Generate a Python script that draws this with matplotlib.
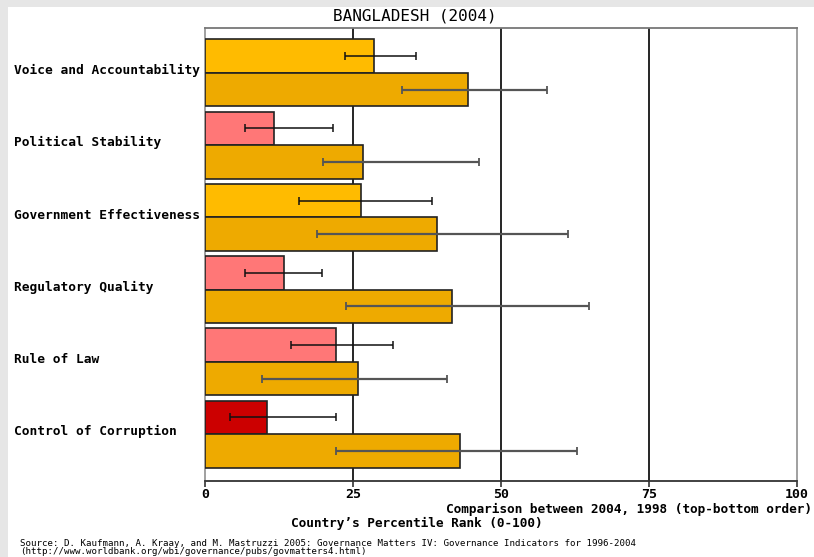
import matplotlib
matplotlib.use("Agg")
import matplotlib.pyplot as plt
import matplotlib.transforms as mtransforms
from matplotlib.patches import Rectangle
import numpy as np

# Governance indicators (percentile rank 0-100)
categories = ["Voice and Accountability", "Political Stability",
              "Government Effectiveness", "Regulatory Quality",
              "Rule of Law", "Control of Corruption"]

rank_2004 = [28.6, 11.7, 26.4, 13.3, 22.1, 10.4]
low_2004 = [23.6, 6.8, 15.8, 6.8, 14.5, 4.3]
high_2004 = [35.7, 21.7, 38.3, 19.7, 31.8, 22.2]

rank_1998 = [44.5, 26.7, 39.2, 41.8, 25.8, 43.1]
low_1998 = [33.3, 19.9, 18.9, 23.8, 9.6, 22.2]
high_1998 = [57.7, 46.3, 61.4, 64.8, 40.9, 62.9]

colors_2004 = ["#FFBB00", "#FF7777", "#FFBB00", "#FF7777", "#FF7777", "#CC0000"]
color_1998 = "#EEAA00"

xticks = [0, 25, 50, 75, 100]

W, H = 814, 557
fig = plt.figure(figsize=(W / 100, H / 100), dpi=100, facecolor="#e6e6e6")
fig.patches.append(Rectangle((8 / W, 0), 1 - 8 / W, 1 - 7 / H,
                             transform=fig.transFigure, facecolor="white",
                             edgecolor="none", zorder=-10))

ax = fig.add_axes([205 / W, 1 - 481 / H, (797 - 205) / W, (481 - 28) / H])
ax.set_facecolor("white")

mono = "DejaVu Sans Mono"
n = len(categories)
centers = np.arange(n)
bh = 0.464

y_top = centers - bh / 2
y_bot = centers + bh / 2

ax.barh(y_top, rank_2004, height=bh, color=colors_2004,
        edgecolor="#222222", linewidth=1.2, zorder=3)
ax.barh(y_bot, rank_1998, height=bh, color=color_1998,
        edgecolor="#222222", linewidth=1.2, zorder=3)

r04 = np.array(rank_2004)
r98 = np.array(rank_1998)
ax.errorbar(r04, y_top,
            xerr=[r04 - np.array(low_2004), np.array(high_2004) - r04],
            fmt="none", ecolor="#111111", elinewidth=1.1, capsize=2.6,
            capthick=1.1, zorder=5)
ax.errorbar(r98, y_bot,
            xerr=[r98 - np.array(low_1998), np.array(high_1998) - r98],
            fmt="none", ecolor="#555555", elinewidth=1.6, capsize=2.6,
            capthick=1.3, zorder=5)

for v in xticks[1:-1]:
    ax.axvline(v, color="black", linewidth=1.2, zorder=1)

ax.set_xlim(0, 100)
ax.set_ylim(5.65, -0.62)
ax.set_xticks(xticks)
ax.set_xticklabels([str(v) for v in xticks], fontfamily=mono,
                   fontweight="bold", fontsize=9.5)
ax.tick_params(axis="x", direction="out", length=4, width=1.2,
               color="#333333", pad=1)
ax.set_yticks(centers)
ax.set_yticklabels([])
ax.tick_params(axis="y", length=0)

for s in ["left", "right", "top"]:
    ax.spines[s].set_color("#999999")
    ax.spines[s].set_linewidth(1.3)
ax.spines["top"].set_color("#777777")
ax.spines["bottom"].set_color("#333333")
ax.spines["bottom"].set_linewidth(1.3)

label_tr = mtransforms.blended_transform_factory(fig.transFigure, ax.transData)
for c, name in zip(centers, categories):
    ax.text(14 / W, c - 0.03, name, transform=label_tr,
            ha="left", va="center", fontfamily=mono, fontweight="bold",
            fontsize=9.3)

fig.text(415 / W, 1 - 16 / H, "BANGLADESH (2004)", ha="center", va="center",
         fontfamily=mono, fontsize=11.5)
fig.text(812 / W, 1 - 509 / H,
         "Comparison between 2004, 1998 (top-bottom order)",
         ha="right", va="center", fontfamily=mono, fontweight="bold",
         fontsize=9.2)
fig.text(417 / W, 1 - 523 / H, "Country\u2019s Percentile Rank (0-100)",
         ha="center", va="center", fontfamily=mono, fontweight="bold",
         fontsize=9.2)
fig.text(20 / W, 1 - 543 / H,
         "Source: D. Kaufmann, A. Kraay, and M. Mastruzzi 2005: Governance "
         "Matters IV: Governance Indicators for 1996-2004",
         ha="left", va="center", fontfamily=mono, fontsize=6.55)
fig.text(20 / W, 1 - 552 / H,
         "(http://www.worldbank.org/wbi/governance/pubs/govmatters4.html)",
         ha="left", va="center", fontfamily=mono, fontsize=6.55)

fig.savefig("out.png", dpi=100, facecolor=fig.get_facecolor())
